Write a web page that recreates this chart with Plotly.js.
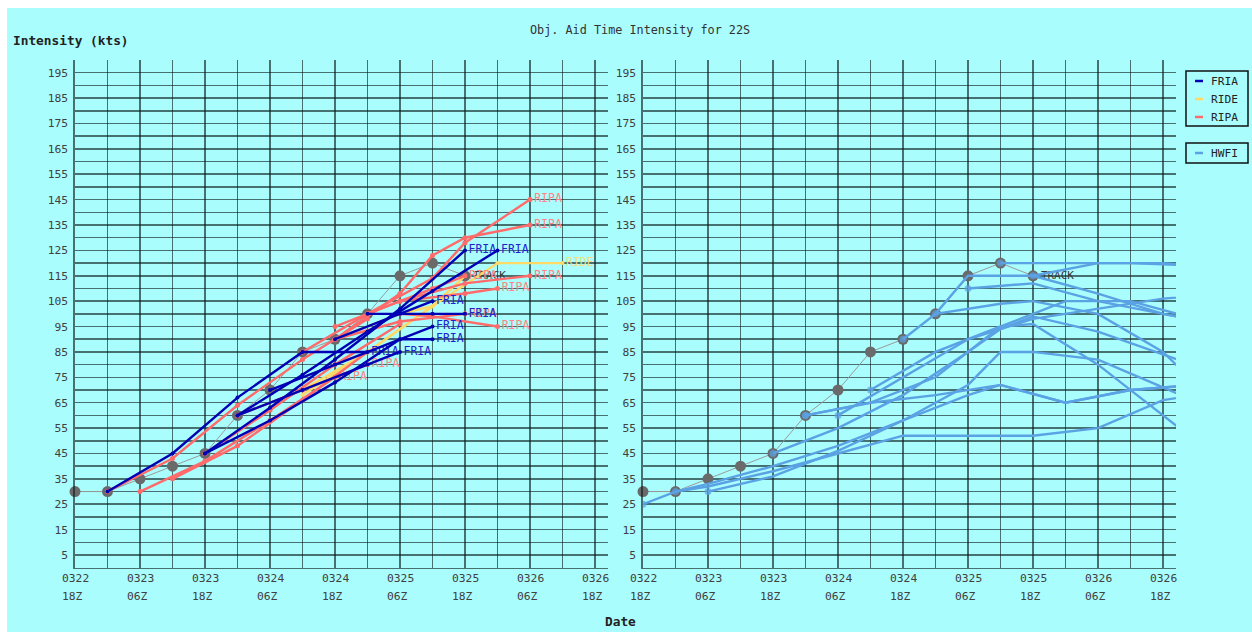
<!DOCTYPE html>
<html><head><meta charset="utf-8">
<script src="https://cdn.plot.ly/plotly-3.0.1.min.js"></script>
<style>html,body{margin:0;padding:0;background:#fff;} #chart{position:absolute;left:7px;top:8px;width:1245px;height:624px;}</style>
</head><body><div id="chart"></div>
<script>
// ---- axis labels (hours after 0322 18Z) ----
const tickHours = [0, 12, 24, 36, 48, 60, 72, 84, 96];
const tickDays  = ['0322','0323','0323','0324','0324','0325','0325','0326','0326'];
const tickZulu  = ['18Z','06Z','18Z','06Z','18Z','06Z','18Z','06Z','18Z'];

// ---- best track ----
const bestHours = [0, 6, 12, 18, 24, 30, 36, 42, 48, 54, 60, 66, 72];
const bestKts   = [30, 30, 35, 40, 45, 60, 70, 85, 90, 100, 115, 120, 115];

// ---- FRIA forecasts ----
const friaHours = [
  [6, 18, 30, 42, 54],
  [24, 36, 48, 60, 72],
  [30, 42, 54, 66, 78],
  [24, 36, 48, 60, 66],
  [30, 42, 54, 60],
  [36, 48, 60, 66],
  [48, 60, 66],
  [54, 66, 72]
];
const friaKts = [
  [30, 45, 67, 85, 85],
  [45, 63, 82, 102, 125],
  [60, 76, 93, 109, 125],
  [45, 58, 73, 90, 90],
  [60, 70, 80, 85],
  [70, 80, 90, 95],
  [90, 100, 105],
  [100, 100, 100]
];

// ---- RIDE forecasts ----
const rideHours = [
  [42, 54, 66, 78, 90],
  [42, 54, 66, 72],
  [48, 60, 66]
];
const rideKts = [
  [68, 85, 103, 120, 120],
  [70, 85, 103, 115],
  [90, 100, 103]
];
const rideLabeled = [true, false, false];

// ---- RIPA forecasts ----
const ripaHours = [
  [6, 18, 30, 42, 54],
  [42, 54, 66, 72, 84],
  [48, 60, 66, 72, 84],
  [48, 60, 72, 84],
  [54, 66, 72],
  [60, 72, 78],
  [60, 66, 78],
  [48, 60, 72],
  [30, 42, 54],
  [12, 24, 36, 48],
  [18, 30, 42, 54],
  [24, 36, 48, 60]
];
const ripaKts = [
  [30, 43, 64, 82, 98],
  [85, 100, 114, 128, 145],
  [90, 108, 123, 130, 135],
  [95, 105, 112, 115],
  [100, 110, 115],
  [105, 108, 110],
  [100, 99, 95],
  [90, 97, 100],
  [60, 70, 80],
  [30, 42, 58, 75],
  [35, 48, 66, 85],
  [45, 62, 80, 96]
];
const ripaLabeled = [false, true, true, true, true, true, true, true, true, true, false, false];

// ---- HWFI forecasts ----
const hwfiHours = [
  [0, 6, 12, 24, 36, 48, 60, 72, 84, 96, 108],
  [6, 12, 24, 36, 48, 60, 66, 78, 90, 102],
  [12, 24, 36, 48, 60, 66, 72, 84, 96, 108],
  [24, 36, 48, 60, 66, 72, 84, 96, 108],
  [30, 42, 54, 60, 66, 78, 90, 102],
  [36, 48, 60, 72, 84, 96, 108],
  [48, 54, 60, 72, 84, 96, 108],
  [54, 66, 72, 84, 96, 108],
  [60, 72, 84, 96, 108],
  [66, 78, 90, 102],
  [72, 84, 96, 108],
  [42, 54, 66, 72, 84, 96, 102],
  [30, 42, 54, 66, 78, 90, 102]
];
const hwfiKts = [
  [25, 30, 32, 38, 45, 52, 52, 52, 55, 66, 70],
  [30, 33, 40, 48, 58, 68, 72, 65, 70, 72],
  [30, 36, 46, 58, 72, 85, 85, 82, 71, 60],
  [45, 55, 68, 85, 94, 99, 93, 84, 75],
  [60, 65, 75, 85, 95, 105, 105, 98],
  [60, 75, 90, 98, 102, 106, 108],
  [90, 100, 115, 115, 108, 100, 95],
  [100, 104, 105, 100, 85, 60],
  [110, 112, 105, 100, 95],
  [120, 120, 120, 119],
  [115, 120, 120, 118],
  [70, 85, 95, 96, 80, 60, 50],
  [60, 65, 68, 72, 65, 70, 72]
];

// ---- styling ----
const BG = '#aafdfd';
const GRID = 'rgba(10,28,28,0.62)';
const MONO = '"DejaVu Sans Mono", "Liberation Mono", monospace';
const C_FRIA = '#0000b4', C_RIDE = '#ffd966', C_RIPA = '#ff6b6b', C_HWFI = '#5aa2e4';
const W = 1245, H = 624;
const px = v => v / W;            // div-x -> paper
const py = v => 1 - v / H;        // div-y -> paper

const traces = [];
function bestTrace(xa, ya) {
  const last = bestHours.length - 1;
  return {
    x: bestHours, y: bestKts, xaxis: xa, yaxis: ya, type: 'scatter',
    mode: 'lines+markers+text',
    text: bestHours.map((h, i) => i === last ? 'TRACK' : ''),
    textposition: 'middle right', textfont: {family: MONO, size: 11, color: '#3a3a3a'},
    line: {color: '#9a9a9a', width: 1},
    marker: {color: '#6a6a6a', size: 11, line: {width: 0}},
    showlegend: false, hoverinfo: 'skip', cliponaxis: false
  };
}
traces.push(bestTrace('x', 'y'));
traces.push(bestTrace('x2', 'y2'));

function modelTraces(hours, kts, labeled, color, label, labelColor, xa, ya, msize, firstOnly) {
  hours.forEach((hs, k) => {
    const ks = kts[k];
    const last = hs.length - 1;
    const lab = label && labeled[k];
    traces.push({
      x: hs, y: ks, xaxis: xa, yaxis: ya, type: 'scatter',
      mode: lab ? 'lines+markers+text' : 'lines+markers',
      text: hs.map((h, i) => (lab && i === last) ? label : ''),
      textposition: 'middle right',
      textfont: {family: MONO, size: 11.5, color: labelColor},
      line: {color: color, width: 2.4},
      marker: {color: color, size: firstOnly ? hs.map((h, i) => i === 0 ? 7 : 0) : msize, line: {width: 0}},
      showlegend: false, hoverinfo: 'skip', cliponaxis: true
    });
  });
}
modelTraces(rideHours, rideKts, rideLabeled, C_RIDE, 'RIDE', '#f7dc80', 'x', 'y', 4);
modelTraces(ripaHours, ripaKts, ripaLabeled, C_RIPA, 'RIPA', '#ff8585', 'x', 'y', 5);
modelTraces(friaHours, friaKts, friaHours.map(() => true), C_FRIA, 'FRIA', '#2222cc', 'x', 'y', 4);
modelTraces(hwfiHours, hwfiKts, hwfiHours.map(() => false), C_HWFI, null, null, 'x2', 'y2', 0, true);

// axes
const gridVals = [];
for (let h = 0; h <= 96; h += 6) gridVals.push(h);
const yVals = [], yText = [];
for (let v = 0; v <= 200; v += 5) { yVals.push(v); yText.push(v % 10 === 5 ? String(v) : ''); }

function xAxis(domain, anchor) {
  return {domain: domain, anchor: anchor, range: [0, 98.4], tickmode: 'array', tickvals: gridVals,
    showticklabels: false, ticks: '', showgrid: true, gridcolor: GRID, gridwidth: 1.6,
    zeroline: false, showline: true, linecolor: GRID, linewidth: 1.6, fixedrange: true};
}
function yAxis(anchor) {
  return {domain: [0.10304, 0.91667], range: [0, 200], anchor: anchor, tickmode: 'array',
    tickvals: yVals, ticktext: yText, ticks: '', ticklabelstandoff: 3,
    tickfont: {family: MONO, size: 11.3, color: '#404040'},
    showgrid: true, gridcolor: GRID, gridwidth: 1.6, zeroline: false,
    showline: true, linecolor: GRID, linewidth: 1.6, fixedrange: true};
}

const annotations = [];
['x', 'x2'].forEach(xa => {
  tickHours.forEach((h, i) => {
    annotations.push({xref: xa, yref: 'paper', x: h, y: py(578 - 8), xanchor: 'left', yanchor: 'middle',
      xshift: -15, text: tickDays[i], showarrow: false, font: {family: MONO, size: 11.3, color: '#404040'}});
    annotations.push({xref: xa, yref: 'paper', x: h, y: py(596 - 8), xanchor: 'left', yanchor: 'middle',
      xshift: -15, text: tickZulu[i], showarrow: false, font: {family: MONO, size: 11.3, color: '#404040'}});
  });
});
annotations.push({xref: 'paper', yref: 'paper', x: px(640 - 7), y: py(30 - 8), xanchor: 'center', yanchor: 'middle',
  text: 'Obj. Aid Time Intensity for 22S', showarrow: false, font: {family: MONO, size: 11.8, color: '#333'}});
annotations.push({xref: 'paper', yref: 'paper', x: px(11 - 7), y: py(40 - 8), xanchor: 'left', yanchor: 'middle',
  text: '<b>Intensity (kts)</b>', showarrow: false, font: {family: MONO, size: 12.8, color: '#222'}});
annotations.push({xref: 'paper', yref: 'paper', x: px(620 - 7), y: py(621 - 8), xanchor: 'center', yanchor: 'middle',
  text: '<b>Date</b>', showarrow: false, font: {family: MONO, size: 12.8, color: '#222'}});

// manual legend boxes
const shapes = [];
const legendItems = [['FRIA', C_FRIA, 81], ['RIDE', C_RIDE, 99], ['RIPA', C_RIPA, 117], ['HWFI', C_HWFI, 153]];
shapes.push({type: 'rect', xref: 'paper', yref: 'paper', x0: px(1186 - 7), x1: px(1248 - 7), y0: py(71 - 8), y1: py(126 - 8),
  line: {color: '#111', width: 1.5}, fillcolor: 'rgba(0,0,0,0)'});
shapes.push({type: 'rect', xref: 'paper', yref: 'paper', x0: px(1186 - 7), x1: px(1248 - 7), y0: py(143 - 8), y1: py(163 - 8),
  line: {color: '#111', width: 1.5}, fillcolor: 'rgba(0,0,0,0)'});
legendItems.forEach(([name, col, yy]) => {
  shapes.push({type: 'line', xref: 'paper', yref: 'paper', x0: px(1195 - 7), x1: px(1203 - 7), y0: py(yy - 8), y1: py(yy - 8),
    line: {color: col, width: 2.5}});
  annotations.push({xref: 'paper', yref: 'paper', x: px(1209 - 7), y: py(yy - 8), xanchor: 'left', yanchor: 'middle',
    text: name, showarrow: false, font: {family: MONO, size: 11.2, color: '#222'}});
});

const layout = {
  width: W, height: H, paper_bgcolor: BG, plot_bgcolor: BG,
  margin: {l: 0, r: 0, t: 0, b: 0}, showlegend: false,
  xaxis: xAxis([68 / W, 601 / W], 'y'), yaxis: yAxis('x'),
  xaxis2: xAxis([636 / W, 1169 / W], 'y2'), yaxis2: yAxis('x2'),
  annotations: annotations, shapes: shapes
};
Plotly.newPlot('chart', traces, layout, {staticPlot: true, displayModeBar: false});
</script></body></html>
